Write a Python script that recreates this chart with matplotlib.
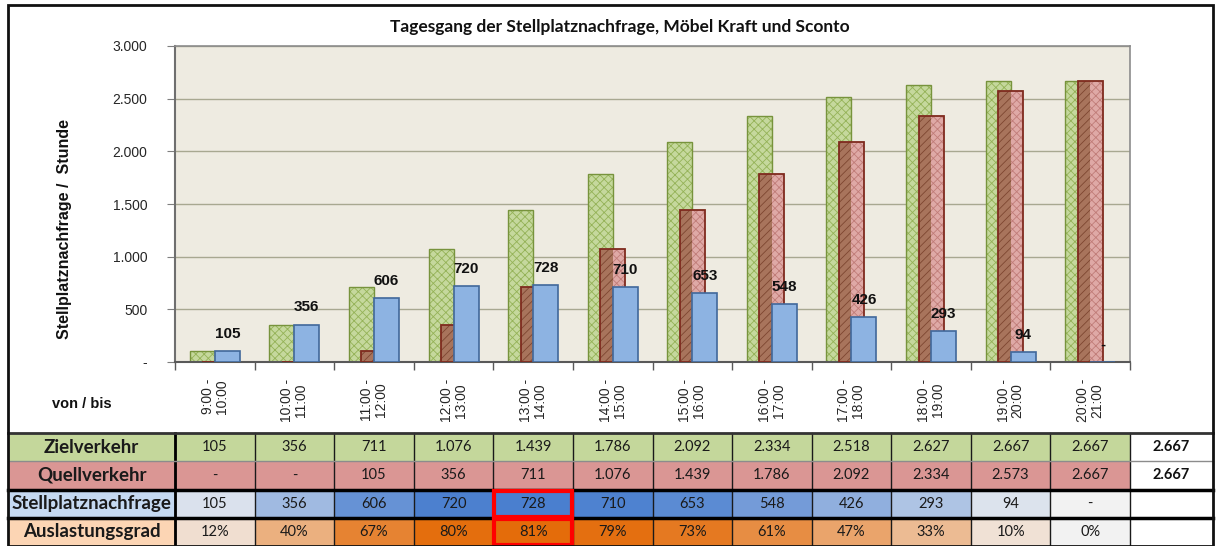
import numpy as np
import matplotlib
matplotlib.use("Agg")
import matplotlib.pyplot as plt
from matplotlib.patches import Rectangle
from matplotlib.colors import to_rgb

# ---------------- data ----------------
title = "Tagesgang der Stellplatznachfrage, Möbel Kraft und Sconto"
categories = ["9:00 -\n10:00", "10:00 -\n11:00", "11:00 -\n12:00", "12:00 -\n13:00",
              "13:00 -\n14:00", "14:00 -\n15:00", "15:00 -\n16:00", "16:00 -\n17:00",
              "17:00 -\n18:00", "18:00 -\n19:00", "19:00 -\n20:00", "20:00 -\n21:00"]
zielverkehr = [105, 356, 711, 1076, 1439, 1786, 2092, 2334, 2518, 2627, 2667, 2667]
quellverkehr = [0, 0, 105, 356, 711, 1076, 1439, 1786, 2092, 2334, 2573, 2667]
stellplatz = [105, 356, 606, 720, 728, 710, 653, 548, 426, 293, 94, 0]
auslastung = [12, 40, 67, 80, 81, 79, 73, 61, 47, 33, 10, 0]
summe_ziel = 2667
summe_quell = 2667
row_labels = ["Zielverkehr", "Quellverkehr", "Stellplatznachfrage", "Auslastungsgrad"]
y_ticks = [0, 500, 1000, 1500, 2000, 2500, 3000]
y_label = "Stellplatznachfrage /  Stunde"
x_label = "von / bis"


def fmt(v):
    if v == 0:
        return "-"
    return f"{v:,}".replace(",", ".")


# ---------------- layout ----------------
W, H = 1217, 546
fig = plt.figure(figsize=(W / 100, H / 100), dpi=100)
fig.patch.set_facecolor("white")
plt.rcParams["hatch.linewidth"] = 0.6

L, R, T, B = 175, 1130, 46, 362
bg = fig.add_axes([0, 0, 1, 1], zorder=0)
bg.set_xlim(0, W)
bg.set_ylim(H, 0)
bg.axis("off")

ax = fig.add_axes([L / W, 1 - B / H, (R - L) / W, (B - T) / H], zorder=2)
ax.set_facecolor("#eeebe1")
n = len(categories)
x = np.arange(n)
w = 0.314
ax.set_xlim(-0.5, n - 0.5)
ax.set_ylim(0, 3000)

ax.set_yticks(y_ticks)
ax.set_yticklabels([fmt(v) for v in y_ticks], fontsize=10, family="Liberation Sans", color="#262626")
ax.yaxis.grid(True, color="#a8a891", lw=1)
ax.set_axisbelow(True)
ax.tick_params(axis="y", length=6, pad=14, color="#7f7f7f")

ax.set_xticks(x)
ax.set_xticklabels(categories, rotation=90, fontsize=10, family="Liberation Sans",
                   va="top", ha="center", linespacing=1.0, color="#262626")
ax.tick_params(axis="x", which="major", length=0, pad=12)
ax.set_xticks(np.arange(-0.5, n, 1), minor=True)
ax.tick_params(axis="x", which="minor", length=6, color="#595959", width=1)

for s in ["top", "right"]:
    ax.spines[s].set_color("#8c8c8c")
    ax.spines[s].set_linewidth(1.2)
ax.spines["left"].set_color("#6f6f6f")
ax.spines["left"].set_linewidth(1.5)
ax.spines["bottom"].set_color("#595959")
ax.spines["bottom"].set_linewidth(1.5)


def hatched(xs, hs, width, face, hcol, hatch, z):
    ax.bar(xs, hs, width, color=face, edgecolor="none", linewidth=0, zorder=z)
    ax.bar(xs, hs, width, color="none", edgecolor=hcol, hatch=hatch, linewidth=0, zorder=z + 0.05)


# Zielverkehr (green)
hatched(x - w / 2, zielverkehr, w, "#c5d89d", "#94b257", "xxxx", 2)
ax.bar(x - w / 2, zielverkehr, w, color="none", edgecolor="#77933c", linewidth=1.0, zorder=2.1)

# Quellverkehr (brown / pink); left half overlaps the green bar
hatched(x, quellverkehr, w, "#dfa9a6", "#c07c78", "xxxx", 3)
overlap = np.minimum(zielverkehr, quellverkehr)
hatched(x - w / 4, overlap, w / 2, "#a8745c", "#7d4630", "////", 3.2)
ax.bar(x, quellverkehr, w, color="none", edgecolor="#7f2a1e", linewidth=1.3, zorder=3.4)

# Stellplatznachfrage (blue)
ax.bar(x + w / 2, stellplatz, w, color="#8db3e2", edgecolor="#41689b", linewidth=1.2, zorder=4)
for xi, v in zip(x, stellplatz):
    ax.annotate(fmt(v), (xi + w / 2, v), xytext=(0, 12.5), textcoords="offset points",
                ha="center", va="center", fontsize=11, fontweight="bold",
                family="Liberation Sans", color="#111111", zorder=6)

# titles / labels
fig.text(620 / W, 1 - 27 / H, title, ha="center", va="center", fontsize=12.5,
         fontweight="bold", family="Lato", color="#111111")
fig.text(65 / W, 1 - 229 / H, y_label, rotation=90, ha="center", va="center",
         fontsize=11.5, fontweight="bold", family="Liberation Sans", color="#111111")
fig.text(52 / W, 1 - 404 / H, x_label, ha="left", va="center", fontsize=10.5,
         fontweight="bold", family="Liberation Sans", color="#111111")

# ---------------- table ----------------
X0, XE = 8, 1213
col_w = (R - L) / n
row_top = 433
row_h = 28.25
label_colors = ["#c4d79b", "#da9694", "#c5d9f1", "#fcd5b4"]


def scale(v, vmax, c0, c1):
    t = v / vmax
    a, b = np.array(to_rgb(c0)), np.array(to_rgb(c1))
    return tuple(a + (b - a) * t)


rows_vals = [zielverkehr, quellverkehr, stellplatz, auslastung]
for r in range(4):
    y0 = row_top + r * row_h
    bg.add_patch(Rectangle((X0, y0), L - X0, row_h, facecolor=label_colors[r], edgecolor="none"))
    bg.text((X0 + L) / 2, y0 + row_h / 2, row_labels[r], ha="center", va="center",
            fontsize=13.5, fontweight="bold", family="Lato", color="#1a1a1a")
    for c in range(n):
        v = rows_vals[r][c]
        if r < 2:
            fc = label_colors[r]
        elif r == 2:
            fc = scale(v, max(stellplatz), "#f2f2f2", "#4a7fcf")
        else:
            fc = scale(v, max(auslastung), "#f2f2f2", "#e46c0a")
        cx = L + c * col_w
        bg.add_patch(Rectangle((cx, y0), col_w, row_h, facecolor=fc, edgecolor="none"))
        txt = f"{v}%" if r == 3 else fmt(v)
        bg.text(cx + col_w / 2, y0 + row_h / 2, txt, ha="center", va="center",
                fontsize=10.5, family="Lato", color="#1a1a1a")
    bg.add_patch(Rectangle((R, y0), XE - R, row_h, facecolor="white", edgecolor="none"))

for r, v in enumerate([summe_ziel, summe_quell]):
    bg.text((R + XE) / 2, row_top + r * row_h + row_h / 2, fmt(v), ha="center", va="center",
            fontsize=10.5, fontweight="bold", family="Lato", color="#111111")

tab_bot = row_top + 4 * row_h
# vertical lines
for c in range(n + 1):
    bg.plot([L + c * col_w] * 2, [row_top, tab_bot], color="#1a1a1a", lw=1.0)
bg.plot([L, L], [row_top, tab_bot], color="#000000", lw=2)
# horizontal lines
bg.plot([X0, XE], [row_top, row_top], color="#333333", lw=2)
bg.plot([X0, XE], [row_top + row_h] * 2, color="#8c8c8c", lw=1)
bg.plot([X0, XE], [row_top + 2 * row_h] * 2, color="#000000", lw=2.5)
bg.plot([X0, XE], [row_top + 3 * row_h] * 2, color="#000000", lw=2.5)

# highlight maximum column
cmax = int(np.argmax(stellplatz))
for r in (2, 3):
    bg.add_patch(Rectangle((L + cmax * col_w + 1, row_top + r * row_h + 1), col_w - 2, row_h - 2,
                           facecolor="none", edgecolor="#ff0000", lw=3, zorder=5))

# outer frame
bg.add_patch(Rectangle((X0, 5), XE - X0, tab_bot - 5, facecolor="none", edgecolor="#111111", lw=2, zorder=6))

fig.savefig("out.png", dpi=100)
